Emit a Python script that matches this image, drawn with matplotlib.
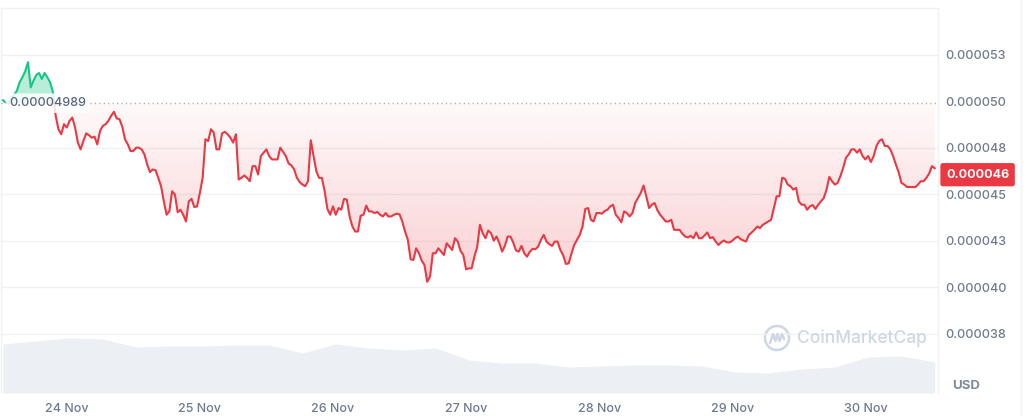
import matplotlib
matplotlib.use('Agg')
import matplotlib.pyplot as plt
import matplotlib.dates as mdates
import numpy as np
from datetime import datetime, timedelta
from matplotlib.patches import PathPatch, Circle
from matplotlib.path import Path
from matplotlib.lines import Line2D

plt.rcParams['font.family'] = ['Inter', 'DejaVu Sans']

# half-hourly price, in micro-USD (x 1e-6), starting 23 Nov 12:30
price = [
    50.05, 49.93, 49.88, 50.11, 50.33, 50.56, 51.01, 51.28, 51.60, 52.09, 50.74, 51.10,
    51.40, 51.51, 51.19, 51.51, 51.28, 51.01, 50.47, 49.21, 48.49, 48.22, 48.76, 48.58,
    48.94, 49.12, 48.58, 47.77, 47.41, 47.86, 48.27, 48.17, 48.04, 48.09, 47.68, 48.40,
    48.67, 48.76, 48.94, 49.21, 49.43, 49.07, 49.03, 48.63, 47.95, 47.68, 47.32, 47.32,
    47.50, 47.50, 47.41, 47.14, 46.60, 46.19, 46.33, 46.29, 45.88, 45.43, 44.62, 43.90,
    44.08, 45.16, 44.98, 44.03, 44.17, 43.90, 43.54, 44.62, 44.75, 44.31, 44.35, 45.07,
    45.88, 47.95, 47.86, 48.49, 48.31, 47.41, 47.41, 48.27, 48.35, 48.22, 48.04, 47.77,
    48.22, 45.79, 45.88, 46.01, 45.88, 45.70, 46.51, 46.51, 46.06, 47.05, 47.23, 47.41,
    47.05, 46.87, 46.87, 46.87, 47.50, 47.27, 47.05, 46.65, 46.55, 46.33, 45.88, 45.65,
    45.52, 45.43, 45.70, 47.90, 47.05, 46.24, 45.88, 45.88, 45.16, 44.21, 43.90, 44.35,
    43.90, 44.26, 44.17, 44.75, 44.71, 43.81, 43.27, 43.00, 43.00, 43.85, 43.90, 44.39,
    44.08, 44.08, 43.99, 44.05, 43.90, 43.81, 43.99, 43.81, 43.81, 43.90, 43.96, 43.92,
    43.54, 43.00, 42.55, 41.51, 41.47, 42.10, 41.83, 41.44, 41.20, 40.30, 40.57, 41.83,
    41.83, 42.10, 41.92, 41.74, 42.37, 42.19, 42.01, 42.64, 42.46, 41.96, 41.74, 40.97,
    41.02, 41.02, 41.65, 42.15, 43.36, 42.91, 42.64, 43.05, 42.91, 42.51, 42.73, 42.37,
    41.92, 42.23, 42.73, 42.73, 42.41, 41.98, 41.92, 42.23, 41.83, 41.65, 41.92, 42.07,
    42.05, 42.19, 42.55, 42.82, 42.46, 42.32, 42.23, 42.46, 42.46, 42.01, 41.74, 41.26,
    41.29, 41.80, 42.28, 42.55, 42.82, 43.27, 44.21, 44.26, 43.63, 43.54, 43.99, 43.99,
    43.96, 44.10, 44.17, 44.35, 44.44, 43.90, 43.72, 43.49, 44.08, 43.99, 43.81, 43.99,
    44.53, 44.80, 45.07, 45.47, 44.89, 44.26, 44.44, 44.53, 44.14, 43.90, 43.72, 43.54,
    43.54, 43.63, 43.09, 43.09, 43.09, 42.88, 42.73, 42.68, 42.77, 42.64, 42.95, 42.64,
    42.64, 42.79, 42.95, 42.64, 42.70, 42.46, 42.28, 42.42, 42.52, 42.42, 42.41, 42.50,
    42.64, 42.73, 42.59, 42.52, 42.46, 42.82, 42.95, 43.09, 43.27, 43.18, 43.36, 43.45,
    43.54, 43.63, 44.26, 44.89, 44.89, 45.88, 45.83, 45.52, 45.43, 45.25, 45.34, 44.62,
    44.44, 44.44, 44.17, 44.35, 44.42, 44.21, 44.44, 44.62, 44.80, 45.25, 45.93, 45.70,
    45.52, 45.61, 45.97, 46.42, 46.96, 47.14, 47.41, 47.41, 47.23, 47.41, 47.05, 46.87,
    47.05, 46.73, 47.05, 47.59, 47.86, 47.95, 47.59, 47.59, 47.41, 47.05, 46.60, 46.19,
    45.61, 45.52, 45.39, 45.39, 45.39, 45.38, 45.52, 45.70, 45.70, 45.88, 46.11, 46.51,
    46.40,
]
# relative trading volume every 6 hours
volume = [49, 52, 55, 54, 46, 47, 47, 48, 48, 40, 49, 45, 43, 45, 33,
          30, 30, 26, 27, 28, 28, 27, 21, 20, 24, 26, 36, 37, 31]

base_price = 49.89
base_text = '0.00004989'
last_price = 46.05
last_text = '0.000046'
ytick_vals = [37.5, 40, 42.5, 45, 47.5, 50, 52.5]
ytick_labels = ['0.000038', '0.000040', '0.000043', '0.000045',
                '0.000048', '0.000050', '0.000053']
day_ticks = [datetime(2024, 11, d) for d in range(24, 31)]
day_labels = ['24 Nov', '25 Nov', '26 Nov', '27 Nov', '28 Nov', '29 Nov', '30 Nov']

start = datetime(2024, 11, 23, 12, 30)
t_price = mdates.date2num([start + timedelta(minutes=30 * i) for i in range(len(price))])
t_vol = mdates.date2num([start + timedelta(hours=6 * i) for i in range(len(volume))])

RED = '#ea3943'
GREEN = '#16c784'
TXT = '#6f7a8f'
GRID = '#eff1f4'

W, H = 1026, 416
fig = plt.figure(figsize=(W / 100, H / 100), dpi=100)
pos = [1 / W, (H - 393) / H, 937 / W, 385 / H]

ax_vol = fig.add_axes(pos, zorder=0)
ax = fig.add_axes(pos, zorder=1)
ax.patch.set_visible(False)

xlim = (mdates.date2num(start - timedelta(hours=0.36)),
        mdates.date2num(start + timedelta(hours=168.6)))

# volume
ax_vol.fill_between(t_vol, volume, 0, color='#eceff3', lw=0)
ax_vol.set_xlim(xlim)
ax_vol.set_ylim(0, 385)
ax_vol.axis('off')

# split the price line where it crosses the opening price
xs, ys = [t_price[0]], [price[0]]
for i in range(1, len(price)):
    a, b = price[i - 1] - base_price, price[i] - base_price
    if a * b < 0:
        f = a / (a - b)
        xs.append(t_price[i - 1] + f * (t_price[i] - t_price[i - 1]))
        ys.append(base_price)
    xs.append(t_price[i])
    ys.append(price[i])
xs, ys = np.array(xs), np.array(ys)

ylim = (34.33, 55.0)

# green area above the opening price
ax.fill_between(xs, ys, base_price, where=ys >= base_price, color=GREEN,
                alpha=0.3, lw=0, zorder=2)

# red gradient area below the opening price
poly = ax.fill_between(xs, ys, base_price, where=ys <= base_price,
                       facecolor='none', lw=0)
clip = Path.make_compound_path(*poly.get_paths())
clip_patch = PathPatch(clip, transform=ax.transData, facecolor='none',
                       edgecolor='none')
ax.add_patch(clip_patch)
grad_y = np.linspace(0, 1, 256)[:, None]
rgba = np.zeros((256, 1, 4))
rgba[..., 0], rgba[..., 1], rgba[..., 2] = 234 / 255, 57 / 255, 67 / 255
rgba[..., 3] = 0.03 + 0.19 * grad_y * (base_price - ylim[0]) / (base_price - 41)
rgba[..., 3] = np.clip(rgba[..., 3], 0, 1)
ax.imshow(rgba, extent=[xs[0], xs[-1], base_price, ylim[0]], aspect='auto',
          origin='lower', clip_path=clip_patch, zorder=2, interpolation='bilinear')

# lines
up = np.where(ys >= base_price, ys, np.nan)
dn = np.where(ys <= base_price, ys, np.nan)
ax.plot(xs, up, color=GREEN, lw=1.5, zorder=4, solid_joinstyle='round')
ax.plot(xs, dn, color=RED, lw=1.5, zorder=4, solid_joinstyle='round')

# grid
for v in ytick_vals:
    if v != 50:
        ax.axhline(v, color=GRID, lw=1, zorder=1)
ax.axhline(base_price, color='#a1a7bb', lw=1, linestyle=(0, (0.8, 2.4)), zorder=3)

ax.set_xlim(xlim)
ax.set_ylim(ylim)

ax.set_xticks(mdates.date2num(day_ticks))
ax.set_xticklabels(day_labels)
ax.yaxis.tick_right()
ax.set_yticks(ytick_vals)
ax.set_yticklabels(ytick_labels)
ax.tick_params(axis='both', length=0, labelsize=9, labelcolor=TXT)
ax.tick_params(axis='x', pad=7)
ax.tick_params(axis='y', pad=5)
for lab in ax.get_xticklabels() + ax.get_yticklabels():
    lab.set_fontweight(500)

ax.spines['bottom'].set_visible(False)
for s in ['top', 'right', 'left']:
    ax.spines[s].set_color(GRID)
    ax.spines[s].set_linewidth(1)

# opening price label
ax.text(0.05, base_price, base_text, transform=ax.get_yaxis_transform(),
        ha='center', va='center', fontsize=9, color='#58667e', fontweight=500,
        zorder=6, bbox=dict(boxstyle='round,pad=0.3,rounding_size=0.3',
                            facecolor='white', alpha=0.85, edgecolor='none'))

# last price label
ax.text(1.0085, last_price, last_text, transform=ax.get_yaxis_transform(),
        ha='left', va='center', fontsize=9, color='white', fontweight='bold',
        zorder=6, clip_on=False,
        bbox=dict(boxstyle='round,pad=0.45,rounding_size=0.2',
                  facecolor=RED, edgecolor='none'))

fig.text(952 / W, (H - 386) / H, 'USD', ha='left', va='center', fontsize=9.5,
         color='#808a9d', fontweight='bold')

# faint right border
fig.add_artist(Line2D([1021 / W, 1021 / W], [0, 1], color=GRID, lw=1))

# watermark
wm = '#cfd6e4'
cy = (H - 338) / H
fig.add_artist(Circle((777, H - 338), 12, transform=None, fill=False,
                      edgecolor=wm, lw=1.8))
mx = np.array([-7, -4, -1.5, 0.5, 2.5, 5, 7]) + 777
my = np.array([-5, 4, -3, 4, -3, 4, -1]) + (H - 338)
fig.add_artist(Line2D(mx, my, transform=None, color=wm, lw=1.8,
                      solid_joinstyle='round', solid_capstyle='round'))
fig.text(797 / W, cy, 'CoinMarketCap', ha='left', va='center', fontsize=12.5,
         color=wm, fontweight=500)

fig.savefig('out.png', dpi=100)
